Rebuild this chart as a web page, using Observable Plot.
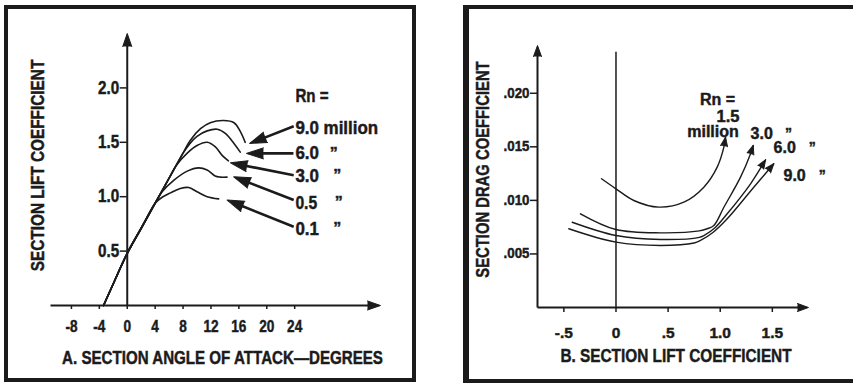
<!DOCTYPE html>
<html><head><meta charset="utf-8">
<script src="https://cdn.jsdelivr.net/npm/d3@7"></script>
<script src="https://cdn.jsdelivr.net/npm/@observablehq/plot@0.6"></script>
<style>
html,body{margin:0;padding:0;background:#fff;}
#wrap{position:relative;width:853px;height:383px;overflow:hidden;background:#fff;}
.box{position:absolute;box-sizing:border-box;border:4px solid #1b1b1b;}
.panel{position:absolute;top:0;}
.panel svg text{stroke:#1b1b1b;stroke-width:0.45px;}
</style></head><body>
<div id="wrap">
 <div class="box" style="left:4px;top:5px;width:412px;height:377px;"></div>
 <div class="box" style="left:463px;top:5px;width:400px;height:378px;border-left-width:6px;"></div>
 <div id="left" class="panel" style="left:0"></div>
 <div id="right" class="panel" style="left:430px"></div>
</div>
<script>
// ---------- Panel A: section lift coefficient vs angle of attack ----------
const rnA = ["9.0", "6.0", "3.0", "0.5", "0.1"];
const alpha90 = [-3.4, -2, 0, 2, 4, 6, 8, 9, 10.5, 11.9, 13.8, 15.3, 16.2, 16.9];
const cl90    = [0, 0.2, 0.48, 0.71, 0.94, 1.17, 1.40, 1.515, 1.625, 1.68, 1.70, 1.68, 1.60, 1.50];
const alpha60 = [-3.4, -2, 0, 2, 4, 6, 8, 9, 10, 11.45, 12.9, 14.1, 15.3, 16.2];
const cl60    = [0, 0.2, 0.48, 0.71, 0.94, 1.17, 1.40, 1.49, 1.555, 1.605, 1.62, 1.58, 1.49, 1.41];
const alpha30 = [-3.4, -2, 0, 2, 4, 6, 7, 8.6, 10, 11.45, 12.6, 13.6, 14.5];
const cl30    = [0, 0.2, 0.48, 0.71, 0.94, 1.17, 1.285, 1.40, 1.47, 1.50, 1.46, 1.38, 1.33];
const alpha05 = [-3.4, -2, 0, 2, 4, 5, 6.66, 8.6, 10.25, 11.45, 12.6, 13.3, 14.3];
const cl05    = [0, 0.2, 0.48, 0.71, 0.94, 1.045, 1.15, 1.235, 1.265, 1.245, 1.19, 1.18, 1.18];
const alpha01 = [-3.4, -2, 0, 2, 4, 5, 6.2, 7.6, 8.8, 10.0, 11.45, 13.1];
const cl01    = [0, 0.2, 0.48, 0.71, 0.94, 0.995, 1.035, 1.075, 1.085, 1.045, 1.0, 0.98];
const xTicksA = [-8, -4, 0, 4, 8, 12, 16, 20, 24];
const yTicksA = [0.5, 1.0, 1.5, 2.0];
const xTickTextA = ["-8", "-4", "0", "4", "8", "12", "16", "20", "24"];
const yTickTextA = ["0.5", "1.0", "1.5", "2.0"];
const labelsA = ["9.0 million", "6.0", "3.0", "0.5", "0.1"];
const labelXA = [24.1, 24.1, 24.1, 24.1, 24.1];
const labelYA = [1.627, 1.398, 1.189, 0.941, 0.702];
const dittoXA = [29.6, 30.1, 30.3, 30.1];
const dittoYA = [1.398, 1.189, 0.941, 0.702];
const rnTitleA = ["Rn ="];
const rnTitleXA = [24.1];
const rnTitleYA = [1.927];
const titleA = "A. SECTION ANGLE OF ATTACK\u2014DEGREES";
const yTitleA = "SECTION LIFT COEFFICIENT";
const arrowX1A = [23.86, 23.82, 23.86, 23.86, 23.86];
const arrowY1A = [1.648, 1.398, 1.198, 0.969, 0.724];
const arrowX2A = [17.55, 17.08, 14.79, 15.26, 14.32];
const arrowY2A = [1.489, 1.398, 1.311, 1.183, 0.969];

// ---------- Panel B: section drag coefficient vs section lift coefficient ----------
const rnB = ["1.5", "3.0", "6.0", "9.0"];
const clB15 = [-0.139, 0, 0.171, 0.411, 0.651, 0.843, 0.971, 1.035, 1.051];
const cdB15 = [0.01202, 0.01108, 0.00999, 0.00937, 0.00983, 0.01123, 0.01310, 0.01497, 0.0159];
const clB30 = [-0.341, 0, 0.427, 0.80, 0.875, 0.939, 1.035, 1.195, 1.291, 1.317];
const cdB30 = [0.00875, 0.00728, 0.00697, 0.00715, 0.00735, 0.00766, 0.00936, 0.01217, 0.01435, 0.01513];
const clB60 = [-0.42, 0, 0.427, 0.80, 0.843, 0.95, 1.067, 1.291, 1.435];
const cdB60 = [0.00796, 0.00672, 0.00635, 0.00655, 0.00672, 0.00745, 0.00875, 0.01155, 0.01379];
const clB90 = [-0.453, 0, 0.427, 0.75, 0.811, 0.93, 1.067, 1.322, 1.514];
const cdB90 = [0.00735, 0.0061, 0.00579, 0.00602, 0.00626, 0.00700, 0.00828, 0.01123, 0.01342];
const xTicksB = [-0.5, 0, 0.5, 1.0, 1.5];
const yTicksB = [0.005, 0.010, 0.015, 0.020];
const xTickTextB = ["-.5", "0", ".5", "1.0", "1.5"];
const yTickTextB = [".005", ".010", ".015", ".020"];
const topLabelsB = ["Rn =", "1.5", "million"];
const topLabelXB = [0.974, 1.075, 0.931];
const topLabelYB = [0.01942, 0.01783, 0.01643];
const sideLabelsB = ["3.0", "6.0", "9.0"];
const sideLabelXB = [1.291, 1.512, 1.607];
const sideLabelYB = [0.01625, 0.01494, 0.01232];
const dittoXB = [1.655, 1.883, 1.979];
const dittoYB = [0.01625, 0.01494, 0.01232];
const titleB = "B. SECTION LIFT COEFFICIENT";
const yTitleB = "SECTION DRAG COEFFICIENT";

// ---------- layout ----------
const INK = "#1b1b1b";
const FONT = "'Liberation Sans', Arial, sans-serif";
const H = 383;
const A = {w: 420, mL: 50, mR: 40, mT: 33, mB: 78, x: [-11, 36.3], y: [0, 2.5]};
const B = {w: 423, mL: 107, mR: 45, mT: 45, mB: 76, x: [-0.753, 1.847], y: [0, 0.02446]};
for (const P of [A, B]) {
  P.sx = (P.w - P.mL - P.mR) / (P.x[1] - P.x[0]);
  P.sy = (H - P.mT - P.mB) / (P.y[1] - P.y[0]);
}
const rot = (P, dx, dy) => Math.atan2(dx * P.sx, dy * P.sy) * 180 / Math.PI;
const zip = (xs, ys, extra) => xs.map((x, i) => ({x, y: ys[i], ...extra}));

// horizontally condense texts (the original uses a condensed bold face)
function squeeze(svg, strings, f) {
  const set = new Set(strings);
  svg.querySelectorAll("text").forEach(t => {
    if (!set.has(t.textContent) || t.hasAttribute("textLength")) return;
    const L = t.getComputedTextLength();
    t.setAttribute("textLength", (L * f).toFixed(2));
    t.setAttribute("lengthAdjust", "spacingAndGlyphs");
  });
}

// ---------- Panel A ----------
const seriesA = [
  zip(alpha90, cl90, {rn: rnA[0]}), zip(alpha60, cl60, {rn: rnA[1]}), zip(alpha30, cl30, {rn: rnA[2]}),
  zip(alpha05, cl05, {rn: rnA[3]}), zip(alpha01, cl01, {rn: rnA[4]})
].flat();
const arrowsA = arrowX1A.map((x1, i) => {
  const x2 = arrowX2A[i], y2 = arrowY2A[i], y1 = arrowY1A[i];
  const dxp = (x2 - x1) * A.sx, dyp = (y2 - y1) * A.sy, len = Math.hypot(dxp, dyp), k = 10;
  return {x1, y1, x2, y2, sx2: x2 - dxp / len * k / A.sx, sy2: y2 - dyp / len * k / A.sy, r: rot(A, x2 - x1, y2 - y1)};
});
const axisHeadsA = [{x: A.x[1], y: 0, r: 90}, {x: 0, y: A.y[1], r: 0}];

const plotA = Plot.plot({
  width: A.w, height: H,
  marginLeft: A.mL, marginRight: A.mR, marginTop: A.mT, marginBottom: A.mB,
  x: {domain: A.x, axis: null}, y: {domain: A.y, axis: null},
  style: {fontFamily: FONT, fontWeight: "bold", color: INK, background: "transparent", overflow: "visible"},
  marks: [
    Plot.axisX({ticks: xTicksA, tickSize: 4, tickPadding: 11, fontSize: 16, tickFormat: (d, i) => xTickTextA[i], label: null, strokeWidth: 1.5}),
    Plot.link([{x1: A.x[0], x2: A.x[1] - 0.5, y: 0}], {x1: "x1", x2: "x2", y1: "y", y2: "y", stroke: INK, strokeWidth: 2}),
    Plot.link([{x: 0, y1: 0, y2: A.y[1] - 0.05}], {x1: "x", x2: "x", y1: "y1", y2: "y2", stroke: INK, strokeWidth: 2}),
    Plot.vector(axisHeadsA, {x: "x", y: "y", rotate: "r", anchor: "end", shape: "spike", length: 13, r: 4.5, fill: INK, stroke: INK, strokeWidth: 1}),
    Plot.ruleY(yTicksA, {y: d => d, x1: 0, x2: -7 / A.sx, stroke: INK, strokeWidth: 1.5}),
    Plot.text(yTicksA, {y: d => d, x: 0, text: (d, i) => yTickTextA[i], textAnchor: "end", dx: -8, fontSize: 17.5, fill: INK}),
    Plot.line(seriesA, {x: "x", y: "y", z: "rn", curve: "catmull-rom", stroke: INK, strokeWidth: 1.6}),
    Plot.link(arrowsA, {x1: "x1", y1: "y1", x2: "sx2", y2: "sy2", stroke: INK, strokeWidth: 2.6}),
    Plot.vector(arrowsA, {x: "x2", y: "y2", rotate: "r", anchor: "end", shape: "spike", length: 17, r: 5.5, fill: INK, stroke: INK, strokeWidth: 1}),
    Plot.text(labelsA, {x: (d, i) => labelXA[i], y: (d, i) => labelYA[i], text: d => d, textAnchor: "start", fontSize: 18, fill: INK}),
    Plot.text(dittoXA, {x: d => d, y: (d, i) => dittoYA[i], text: () => "\u201D", textAnchor: "middle", fontSize: 16, fill: INK}),
    Plot.text(rnTitleA, {x: (d, i) => rnTitleXA[i], y: (d, i) => rnTitleYA[i], text: d => d, textAnchor: "start", fontSize: 18, fill: INK}),
    Plot.text([titleA], {frameAnchor: "bottom", lineAnchor: "middle", dx: 7, dy: 53, fontSize: 18, fill: INK}),
    Plot.text([yTitleA], {frameAnchor: "left", textAnchor: "middle", lineAnchor: "middle", rotate: -90, dx: -12, dy: -4, fontSize: 18.5, fill: INK})
  ]
});
document.getElementById("left").appendChild(plotA);
squeeze(plotA, xTickTextA, 0.85);
squeeze(plotA, yTickTextA, 0.87);
squeeze(plotA, labelsA, 0.94);
squeeze(plotA, rnTitleA, 0.84);
squeeze(plotA, [titleA], 0.84);
squeeze(plotA, [yTitleA], 0.83);

// ---------- Panel B ----------
const curvesB = [[clB15, cdB15], [clB30, cdB30], [clB60, cdB60], [clB90, cdB90]];
const seriesB = curvesB.map(([xs, ys], i) => zip(xs, ys, {rn: rnB[i]})).flat();
const headsB = curvesB.map(([xs, ys]) => {
  const n = xs.length;
  return {x: xs[n - 1], y: ys[n - 1], r: rot(B, xs[n - 1] - xs[n - 2], ys[n - 1] - ys[n - 2])};
});
const axisHeadsB = [{x: B.x[1], y: 0, r: 90}, {x: B.x[0], y: B.y[1], r: 0}];

const plotB = Plot.plot({
  width: B.w, height: H,
  marginLeft: B.mL, marginRight: B.mR, marginTop: B.mT, marginBottom: B.mB,
  x: {domain: B.x}, y: {domain: B.y},
  style: {fontFamily: FONT, fontWeight: "bold", color: INK, background: "transparent", overflow: "visible"},
  marks: [
    Plot.axisX({ticks: xTicksB, tickSize: 5, tickPadding: 15, fontSize: 15, tickFormat: (d, i) => xTickTextB[i], label: null, strokeWidth: 1.5}),
    Plot.axisY({ticks: yTicksB, tickSize: 7, tickPadding: 1, fontSize: 14, tickFormat: (d, i) => yTickTextB[i], label: null, strokeWidth: 1.5}),
    Plot.link([{x1: B.x[0], x2: B.x[1] - 0.05, y: 0}], {x1: "x1", x2: "x2", y1: "y", y2: "y", stroke: INK, strokeWidth: 2}),
    Plot.link([{x: B.x[0], y1: 0, y2: B.y[1] - 0.0005}], {x1: "x", x2: "x", y1: "y1", y2: "y2", stroke: INK, strokeWidth: 2}),
    Plot.vector(axisHeadsB, {x: "x", y: "y", rotate: "r", anchor: "end", shape: "spike", length: 11, r: 4, fill: INK, stroke: INK, strokeWidth: 1}),
    Plot.ruleX([0], {y1: 0, y2: 0.02384, stroke: INK, strokeWidth: 1.5}),
    Plot.line(seriesB, {x: "x", y: "y", z: "rn", curve: "catmull-rom", stroke: INK, strokeWidth: 1.4}),
    Plot.vector(headsB, {x: "x", y: "y", rotate: "r", anchor: "end", shape: "spike", length: 9, r: 3.5, fill: INK, stroke: INK, strokeWidth: 1}),
    Plot.text(topLabelsB, {x: (d, i) => topLabelXB[i], y: (d, i) => topLabelYB[i], text: d => d, textAnchor: "middle", fontSize: 16, fill: INK}),
    Plot.text(sideLabelsB, {x: (d, i) => sideLabelXB[i], y: (d, i) => sideLabelYB[i], text: d => d, textAnchor: "start", fontSize: 16, fill: INK}),
    Plot.text(dittoXB, {x: d => d, y: (d, i) => dittoYB[i], text: () => "\u201D", textAnchor: "middle", fontSize: 14, fill: INK}),
    Plot.text([titleB], {frameAnchor: "bottom", lineAnchor: "middle", dx: 3, dy: 49, fontSize: 18.5, fill: INK}),
    Plot.text([yTitleB], {frameAnchor: "left", textAnchor: "middle", lineAnchor: "middle", rotate: -90, dx: -54, dy: -7, fontSize: 18.5, fill: INK})
  ]
});
document.getElementById("right").appendChild(plotB);
squeeze(plotB, xTickTextB, 1.03);
squeeze(plotB, yTickTextB, 0.95);
squeeze(plotB, [titleB], 0.83);
squeeze(plotB, [yTitleB], 0.8);
</script>
</body></html>
